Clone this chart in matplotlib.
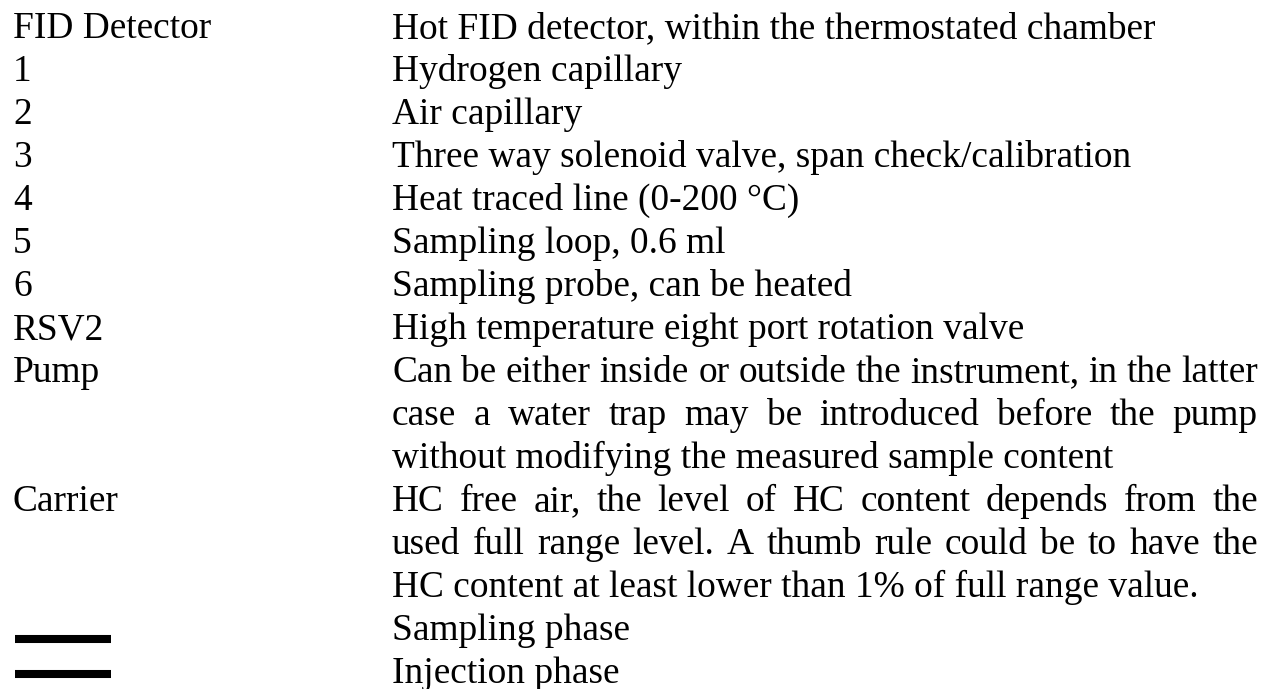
import matplotlib
matplotlib.use("Agg")
import matplotlib.pyplot as plt

# Table content: left column labels and right column description lines
labels = ["FID Detector", "1", "2", "3", "4", "5", "6", "RSV2", "Pump", "Carrier", "", ""]
descriptions = [
    ["Hot FID detector, within the thermostated chamber"],
    ["Hydrogen capillary"],
    ["Air capillary"],
    ["Three way solenoid valve, span check/calibration"],
    ["Heat traced line (0-200 \u00b0C)"],
    ["Sampling loop, 0.6 ml"],
    ["Sampling probe, can be heated"],
    ["High temperature eight port rotation valve"],
    ["Can be either inside or outside the instrument, in the latter",
     "case a water trap may be introduced before the pump",
     "without modifying the measured sample content"],
    ["HC free air, the level of HC content depends from the",
     "used full range level. A thumb rule could be to have the",
     "HC content at least lower than 1% of full range value."],
    ["Sampling phase"],
    ["Injection phase"],
]
# rows whose label is a line sample instead of text, with vertical offset
line_rows = {10: 0, 11: -8}

W, H = 1265, 689
fig = plt.figure(figsize=(W / 100, H / 100), dpi=100)
ax = fig.add_axes([0, 0, 1, 1])
ax.set_xlim(0, W)
ax.set_ylim(H, 0)
ax.axis("off")

font = dict(family="Liberation Serif", size=26.9, color="black", va="baseline")
x_label, x_desc, x_right = 13, 392, 1258
y0, pitch = 38, 43

renderer = fig.canvas.get_renderer()


def word_width(w):
    t = ax.text(0, 0, w, **font)
    bb = t.get_window_extent(renderer)
    t.remove()
    return bb.width


k = 0
for i, (lab, lines) in enumerate(zip(labels, descriptions)):
    y = y0 + pitch * k
    if i in line_rows:
        yl = y - 1 + line_rows[i]
        ax.plot([15, 111], [yl, yl], color="black", lw=5.8, solid_capstyle="butt")
    else:
        ax.text(x_label, y, lab, **font)
    for j, line in enumerate(lines):
        yl = y0 + pitch * (k + j)
        if j < len(lines) - 1:
            # justified line: spread words over full column width
            words = line.split()
            widths = [word_width(w) for w in words]
            gap = (x_right - x_desc - sum(widths)) / (len(words) - 1)
            x = x_desc
            for w, ww in zip(words, widths):
                ax.text(x, yl, w, **font)
                x += ww + gap
        else:
            ax.text(x_desc, yl, line, **font)
    k += len(lines)

fig.savefig("out.png", dpi=100)
